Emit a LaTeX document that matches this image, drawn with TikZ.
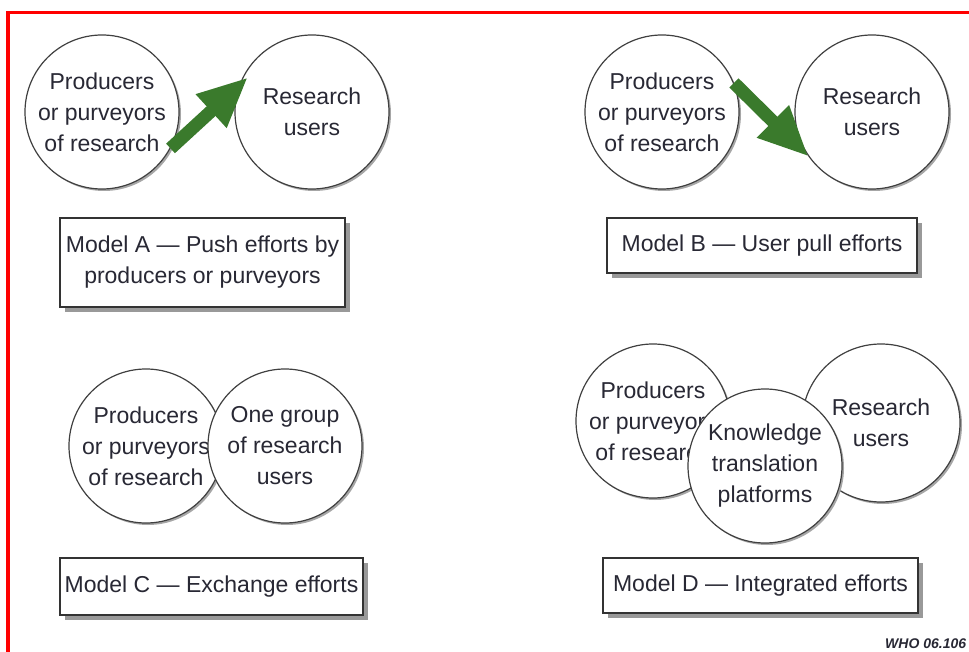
\documentclass[tikz,border=0pt]{standalone}
\usepackage{fontspec}
\setmainfont{Liberation Sans}
\usetikzlibrary{arrows.meta,shadows}
\definecolor{pushgreen}{RGB}{58,122,44}
\definecolor{inkgray}{RGB}{40,40,52}
\tikzset{
  bubble/.style={circle,draw=black!75,line width=1.2pt,fill=white,minimum size=154pt,inner sep=0pt,
    align=center,text=inkgray,font=\fontsize{23}{31}\selectfont,
    drop shadow={shadow xshift=2pt,shadow yshift=-2pt,fill=black!35,opacity=1}},
  modelbox/.style={rectangle,draw=black!80,line width=1.5pt,fill=white,inner sep=0pt,
    align=center,text=inkgray,font=\fontsize{23}{31}\selectfont,
    drop shadow={shadow xshift=5pt,shadow yshift=-5pt,fill=black!40,opacity=1}},
  bigarrow/.style={draw=pushgreen,line width=13pt,-{Triangle[length=50pt,width=42pt]}}
}
\begin{document}
\begin{tikzpicture}[x=1pt,y=-1pt]
  \useasboundingbox (0,0) rectangle (969,652);
  \clip (0,0) rectangle (969,652);
  \fill[white] (0,0) rectangle (969,652);
  \draw[red,line width=3.5pt] (8,700) -- (8,12.5) -- (1000,12.5);

  % model A
  \node[bubble] (prodA) at (102,112) {Producers\\or purveyors\\of research};
  \node[bubble] (usersA) at (312,112) {Research\\users};
  \draw[bigarrow,shorten >=-12pt] (prodA.-28) -- (usersA.160);
  \node[modelbox,minimum width=285pt,minimum height=89pt] (boxA) at (202.5,262.5) {Model A — Push efforts by\\producers or purveyors};

  % model B
  \node[bubble] (prodB) at (662,112) {Producers\\or purveyors\\of research};
  \node[bubble] (usersB) at (872,112) {Research\\users};
  \draw[bigarrow] (prodB.22) -- (usersB.215);
  \node[modelbox,minimum width=310pt,minimum height=55pt] (boxB) at (762,245.5) {Model B — User pull efforts};

  % model C
  \node[bubble] (prodC) at (146,446) {Producers\\or purveyors\\of research};
  \node[bubble] (usersC) at (285,446) {One group\\of research\\users};
  \node[modelbox,minimum width=303pt,minimum height=57pt] (boxC) at (211.5,586.5) {Model C — Exchange efforts};

  % model D
  \node[bubble] (prodD) at (653,421) {Producers\\or purveyors\\of research};
  \node[bubble,minimum size=158pt] (usersD) at (881,423) {Research\\users};
  \node[bubble] (ktpD) at (765,466) {Knowledge\\translation\\platforms};
  \node[modelbox,minimum width=315pt,minimum height=55pt] (boxD) at (760.5,585.5) {Model D — Integrated efforts};

  \node[anchor=west,inner sep=0pt,text=inkgray,font=\fontsize{14}{14}\selectfont\bfseries\itshape] (who) at (885,644) {WHO 06.106};
\end{tikzpicture}
\end{document}
